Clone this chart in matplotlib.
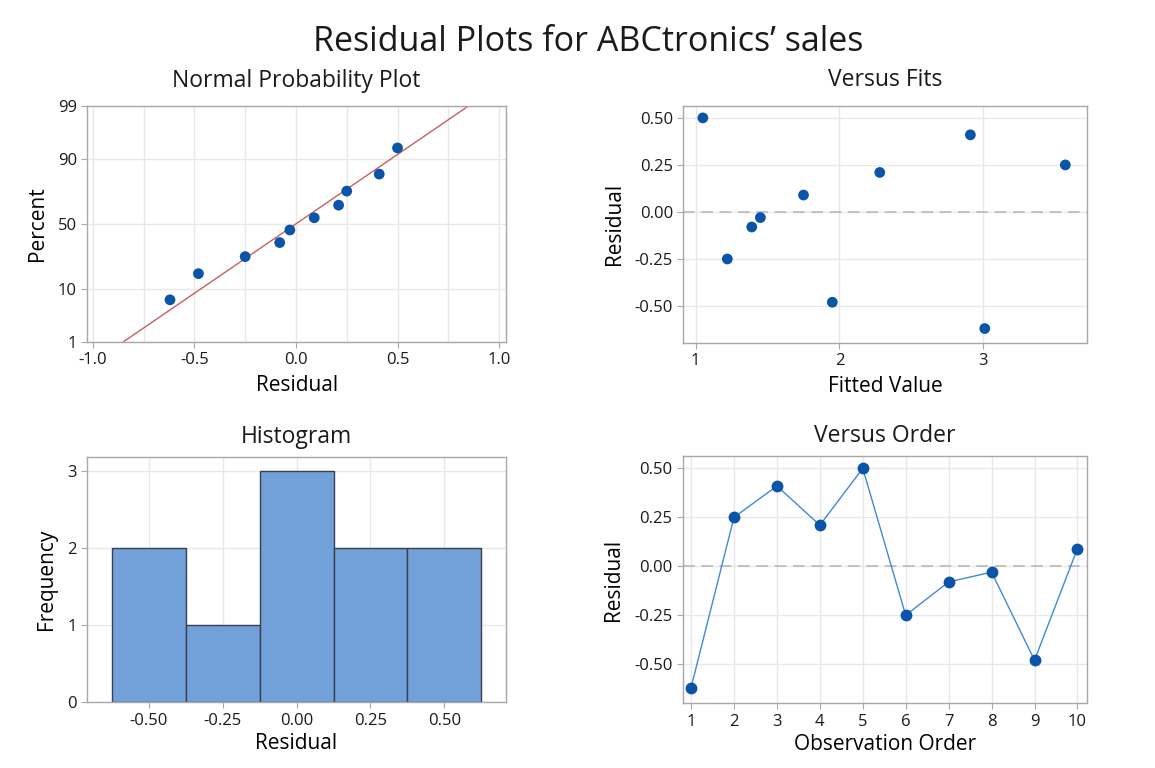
import matplotlib
matplotlib.use("Agg")
import matplotlib.pyplot as plt
import numpy as np
from statistics import NormalDist

plt.rcParams['font.family'] = ['Open Sans', 'DejaVu Sans']
plt.rcParams['axes.unicode_minus'] = False

# residuals in observation order
obs_order = [1, 2, 3, 4, 5, 6, 7, 8, 9, 10]
residuals = [-0.62, 0.25, 0.41, 0.21, 0.50, -0.25, -0.08, -0.03, -0.48, 0.09]
fitted = [3.01, 3.57, 2.91, 2.28, 1.05, 1.22, 1.39, 1.45, 1.95, 1.75]

# normal probability plot (sorted residuals vs percent)
npp_resid = [-0.62, -0.48, -0.25, -0.08, -0.03, 0.09, 0.21, 0.25, 0.41, 0.50]
npp_pct = [6.7, 16.3, 25.9, 35.6, 45.2, 54.8, 64.4, 74.1, 83.7, 93.3]
fit_mean = 0.0
fit_sd = 0.365

# histogram
bin_centers = [-0.50, -0.25, 0.00, 0.25, 0.50]
bin_counts = [2, 1, 3, 2, 2]
bin_width = 0.25

DOT = '#0a55a8'
BAR = '#72a0d8'
LINE = '#3f8ad8'
RED = '#c8605a'
SPINE = '#a8a8a8'
GRID = '#e8e8e8'
TXT = '#1a1a1a'

nd = NormalDist()
_ppf = np.vectorize(lambda p: nd.inv_cdf(min(max(p / 100.0, 1e-6), 1 - 1e-6)), otypes=[float])
_cdf = np.vectorize(lambda z: nd.cdf(z) * 100.0, otypes=[float])


def style(ax):
    for s in ax.spines.values():
        s.set_color(SPINE)
        s.set_linewidth(1.0)
    ax.tick_params(colors=SPINE, labelcolor=TXT, labelsize=12, length=4, width=0.8)
    ax.grid(True, color=GRID, linewidth=1.0)
    ax.set_axisbelow(True)


fig = plt.figure(figsize=(11.55, 7.68), dpi=100)
fig.text(0.509, 0.945, "Residual Plots for ABCtronics\u2019 sales", ha='center', va='center',
         fontsize=24.5, color=TXT)

# Normal probability plot
ax1 = fig.add_axes([0.0756, 0.555, 0.3625, 0.307])
ax1.set_yscale('function', functions=(_ppf, _cdf))
style(ax1)
xl = np.linspace(-1.2, 1.2, 50)
ax1.plot(xl, _cdf((xl - fit_mean) / fit_sd), color=RED, lw=1.0, zorder=2)
ax1.scatter(npp_resid, npp_pct, s=60, color=DOT, zorder=3, edgecolor='none')
ax1.set_xlim(-1.027, 1.034)
ax1.set_ylim(1, 99)
ax1.set_xticks([-1.0, -0.5, 0.0, 0.5, 1.0])
ax1.set_xticks([-0.75, -0.25, 0.25, 0.75], minor=True)
ax1.tick_params(which='minor', length=0)
ax1.grid(True, which='minor', axis='x', color=GRID, linewidth=1.0)
ax1.set_yticks([1, 10, 50, 90, 99])
ax1.set_yticklabels(['1', '10', '50', '90', '99'])
ax1.yaxis.set_minor_locator(matplotlib.ticker.NullLocator())
ax1.set_title("Normal Probability Plot", fontsize=16.5, pad=14, color=TXT)
ax1.set_xlabel("Residual", fontsize=15, labelpad=5)
ax1.set_ylabel("Percent", fontsize=15, labelpad=7)

# Versus fits
ax2 = fig.add_axes([0.5916, 0.5538, 0.3498, 0.3086])
style(ax2)
ax2.axhline(0, color='#b8b8b8', lw=1.2, dashes=(7, 4), zorder=1)
ax2.scatter(fitted, residuals, s=60, color=DOT, zorder=3, edgecolor='none')
ax2.set_xlim(0.914, 3.723)
ax2.set_ylim(-0.695, 0.565)
ax2.set_xticks([1, 2, 3])
ax2.set_yticks([-0.50, -0.25, 0.00, 0.25, 0.50])
ax2.set_yticklabels(['-0.50', '-0.25', '0.00', '0.25', '0.50'])
ax2.set_title("Versus Fits", fontsize=16.5, pad=14, color=TXT)
ax2.set_xlabel("Fitted Value", fontsize=15, labelpad=5)
ax2.set_ylabel("Residual", fontsize=15, labelpad=7)

# Histogram
ax3 = fig.add_axes([0.0753, 0.0855, 0.3628, 0.3198])
style(ax3)
ax3.bar(bin_centers, bin_counts, width=bin_width, color=BAR, edgecolor='#36414f', linewidth=1.0, zorder=2)
ax3.set_xlim(-0.71, 0.709)
ax3.set_ylim(0, 3.18)
ax3.set_xticks(bin_centers)
ax3.set_xticklabels(['-0.50', '-0.25', '0.00', '0.25', '0.50'])
ax3.set_yticks([0, 1, 2, 3])
ax3.set_title("Histogram", fontsize=16.5, pad=10, color=TXT)
ax3.set_xlabel("Residual", fontsize=15, labelpad=3)
ax3.set_ylabel("Frequency", fontsize=15, labelpad=7)

# Versus order
ax4 = fig.add_axes([0.5911, 0.0842, 0.3503, 0.322])
style(ax4)
ax4.axhline(0, color='#b8b8b8', lw=1.2, dashes=(7, 4), zorder=1)
ax4.plot(obs_order, residuals, color=LINE, lw=1.0, marker='o', ms=7.5,
         mfc=DOT, mec=DOT, zorder=3)
ax4.set_xlim(0.806, 10.23)
ax4.set_ylim(-0.70, 0.563)
ax4.set_xticks(obs_order)
ax4.set_yticks([-0.50, -0.25, 0.00, 0.25, 0.50])
ax4.set_yticklabels(['-0.50', '-0.25', '0.00', '0.25', '0.50'])
ax4.set_title("Versus Order", fontsize=16.5, pad=10, color=TXT)
ax4.set_xlabel("Observation Order", fontsize=15, labelpad=3)
ax4.set_ylabel("Residual", fontsize=15, labelpad=7)

fig.savefig("out.png", dpi=100)
